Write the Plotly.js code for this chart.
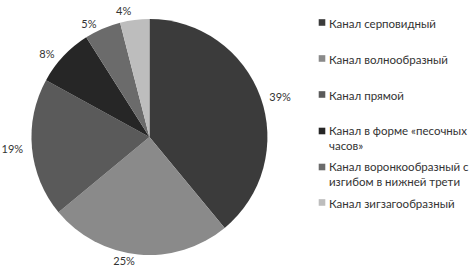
<!DOCTYPE html>
<html>
<head>
<meta charset="utf-8">
<script src="https://cdn.plot.ly/plotly-3.0.1.min.js"></script>
<style>html,body{margin:0;padding:0;background:#fff;}#chart{width:475px;height:278px;}</style>
</head>
<body>
<div id="chart"></div>
<script>
const categories = [
  "Канал серповидный",
  "Канал волнообразный",
  "Канал прямой",
  "Канал в форме «песочных<br>часов»",
  "Канал воронкообразный с<br>изгибом в нижней трети",
  "Канал зигзагообразный"
];
const values = [39, 25, 19, 8, 5, 4];
const sliceColors = ["#3b3b3b", "#8a8a8a", "#5a5a5a", "#262626", "#6b6b6b", "#bdbdbd"];
const NB = "\u00A0";
const labelTemplates = [
  NB + NB + "%{value}%",
  "%{value}%",
  "%{value}%" + NB + NB,
  "%{value}%" + NB + NB,
  "%{value}%" + NB,
  "%{value}%"
];

const trace = {
  type: "pie",
  labels: categories,
  values: values,
  sort: false,
  direction: "clockwise",
  rotation: 0,
  marker: {colors: sliceColors, line: {width: 0}},
  texttemplate: labelTemplates,
  textposition: "outside",
  outsidetextfont: {family: "Lato, 'Open Sans', sans-serif", size: 11, color: "#333"},
  domain: {x: [0, 0.64], y: [0, 1]},
  hoverinfo: "label+percent"
};

const layout = {
  width: 475, height: 278,
  margin: {l: 0, r: 0, t: 19, b: 23},
  paper_bgcolor: "#fff",
  showlegend: true,
  legend: {
    x: 0.619, xanchor: "left", y: 1, yanchor: "top",
    bgcolor: "rgba(0,0,0,0)",
    font: {family: "Lato, 'Open Sans', sans-serif", size: 11.5, color: "#333"},
    valign: "top",
    traceorder: "normal"
  },
  font: {family: "Lato, 'Open Sans', sans-serif"}
};

Plotly.newPlot("chart", [trace], layout, {displayModeBar: false, staticPlot: true}).then(function (gd) {
  // hide leader lines (reference has none)
  gd.querySelectorAll("path.textline").forEach(function (p) { p.style.strokeOpacity = 0; });
  // no clipping of the re-spaced legend
  gd.querySelectorAll(".legend [clip-path]").forEach(function (el) { el.removeAttribute("clip-path"); });
  // smaller legend swatches next to the text
  gd.querySelectorAll(".legendpoints path").forEach(function (p) {
    p.setAttribute("transform", "translate(33,0) scale(0.55)");
  });
  // even legend spacing like the reference, first text line of each entry aligned
  const items = Array.from(gd.querySelectorAll(".legend .traces"));
  const legendG = gd.querySelector(".legend");
  const m = /translate\(([-\d.]+)[ ,]+([-\d.]+)\)/.exec(legendG.getAttribute("transform"));
  const ly = m ? parseFloat(m[2]) : 0;
  const tops = items.map(function (g) {
    const txt = g.querySelector(".legendtext");
    return txt ? txt.getBBox().y : 0;
  });
  items.forEach(function (g, i) {
    const t = /translate\(([-\d.]+)[ ,]+([-\d.]+)\)/.exec(g.getAttribute("transform"));
    const x = t ? parseFloat(t[1]) : 0;
    g.setAttribute("transform", "translate(" + x + "," + (23 + 36 * i - ly + (tops[0] - tops[i])) + ")");
  });
});
</script>
</body>
</html>
